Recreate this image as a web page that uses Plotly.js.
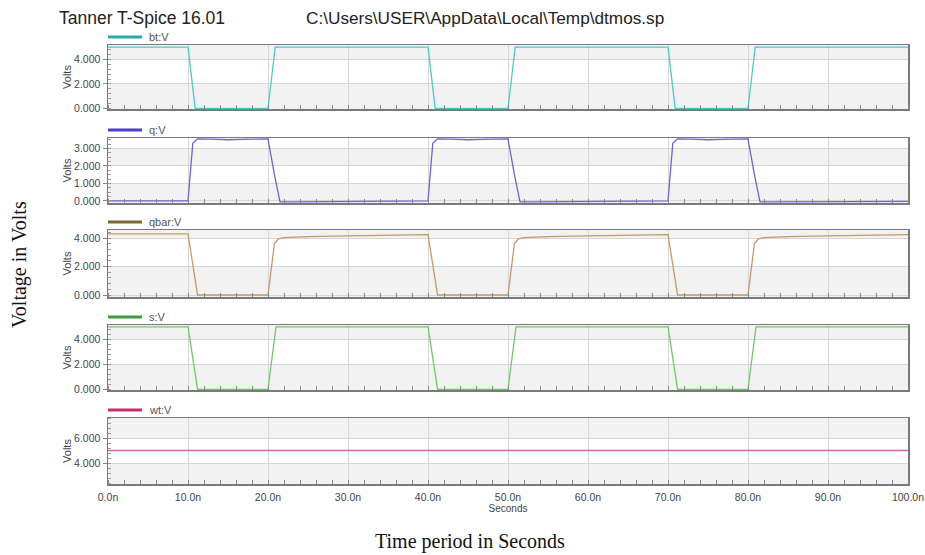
<!DOCTYPE html>
<html>
<head>
<meta charset="utf-8">
<script src="https://cdn.plot.ly/plotly-3.0.1.min.js"></script>
<style>html,body{margin:0;padding:0;background:#fff;}#chart{width:925px;height:555px;}</style>
</head>
<body>
<div id="chart"></div>
<script>
// ---- data (time in ns, values in volts) ----
const btTime  = [0,10,10.9,20,20.9,40,40.9,50,50.9,70,70.9,80,80.9,100];
const btVolts = [5,5,0,0,5,5,0,0,5,5,0,0,5,5];

const qTime  = [0,10,10.6,11.2,13,15,18,20,20.8,21.5,23,30,38,40,40.6,41.2,43,45,48,50,50.8,51.5,53,60,68,70,70.6,71.2,73,75,78,80,80.8,81.5,83,90,100];
const qVolts = [0,0,3.3,3.55,3.54,3.5,3.53,3.55,1.5,-0.05,-0.05,-0.04,-0.01,0,3.3,3.55,3.54,3.5,3.53,3.55,1.5,-0.05,-0.05,-0.04,-0.01,0,3.3,3.55,3.54,3.5,3.53,3.55,1.5,-0.05,-0.05,-0.04,-0.03];

const qbarTime  = [0,10,11.2,20,20.8,21.3,22,25,30,35,40,41.2,50,50.8,51.3,52,55,60,65,70,71.2,80,80.8,81.3,82,85,90,95,100];
const qbarVolts = [4.3,4.3,0,0,3.6,3.95,4.03,4.1,4.15,4.2,4.24,0,0,3.6,3.95,4.03,4.1,4.15,4.2,4.24,0,0,3.6,3.95,4.03,4.1,4.15,4.2,4.24];

const sTime  = [0,10,11.2,20,21,40,41.2,50,51,70,71.2,80,81,100];
const sVolts = [5,5,0,0,5,5,0,0,5,5,0,0,5,5];

const wtTime  = [0,100];
const wtVolts = [5,5];

const seriesNames = ['bt:V','q:V','qbar:V','s:V','wt:V'];
const xTickVals   = [0,10,20,30,40,50,60,70,80,90,100];
const xTickLabels = ['0.0n','10.0n','20.0n','30.0n','40.0n','50.0n','60.0n','70.0n','80.0n','90.0n','100.0n'];

// ---- styling / layout ----
const lineColors   = ['#48cccc','#6b63d9','#c49a62','#6ccb5f','#d864a8'];
const legendColors = ['#2aa9a9','#4a40c2','#7d6a32','#3d9b3d','#c2306f'];
const W = 925, H = 555;
const xLeft = 108, xRight = 908;
const panelPx = [[45,109],[138,203],[230,297],[325,390],[418,484]];
const yRanges = [[-0.05,5.18],[-0.12,3.6],[-0.14,4.57],[-0.05,5.15],[2.32,7.6]];
const yTicks  = [[0,2,4],[0,1,2,3],[0,2,4],[0,2,4],[4,6]];
const yMinor  = [0.4,0.25,0.4,0.4,0.4];
const whiteBands = [[[2,4]],[[1,2],[3,3.6]],[[2,4]],[[2,4]],[[4,6]]];

const times = [btTime,qTime,qbarTime,sTime,wtTime];
const vals  = [btVolts,qVolts,qbarVolts,sVolts,wtVolts];

const fontFam = 'Arial, "Liberation Sans", sans-serif';
const serifFam = '"Liberation Serif", "Times New Roman", serif';
const traces = [];
const layout = {
  width: W, height: H,
  margin: {l:0,r:0,t:0,b:0},
  paper_bgcolor: '#ffffff',
  plot_bgcolor: '#f2f2f2',
  showlegend: false,
  font: {family: fontFam, size: 10, color: '#555'},
  shapes: [], annotations: []
};

const xd = [xLeft/W, xRight/W];
for (let i = 0; i < 5; i++) {
  const n = i === 0 ? '' : String(i+1);
  traces.push({
    x: times[i], y: vals[i], type: 'scatter', mode: 'lines',
    name: seriesNames[i],
    xaxis: 'x' + n, yaxis: 'y' + n,
    line: {color: lineColors[i], width: 1.3}
  });
  const dom = [1 - panelPx[i][1]/H, 1 - panelPx[i][0]/H];
  const last = i === 4;
  layout['xaxis' + n] = {
    domain: xd, anchor: 'y' + n, range: [0,100],
    matches: i === 0 ? undefined : 'x',
    tickvals: xTickVals, ticktext: xTickLabels,
    showticklabels: last, ticklabelstandoff: 3,
    ticks: '', showgrid: true, gridcolor: '#d6d6d6', gridwidth: 1,
    zeroline: false, showline: true, mirror: true, linecolor: '#7a7a7a', linewidth: 1.5,
    minor: {ticks: 'inside', ticklen: 4, dtick: 2, tickcolor: '#888', showgrid: false},
    tickfont: {size: 10.5, color: '#444', family: fontFam},
    automargin: false,
    title: last ? {text: 'Seconds', font: {size: 10, color: '#444', family: fontFam}, standoff: 2} : {text: ''}
  };
  layout['yaxis' + n] = {
    domain: dom, anchor: 'x' + n, range: yRanges[i],
    tickvals: yTicks[i], tickformat: '.3f',
    ticks: 'outside', ticklen: 4, tickcolor: '#888',
    showgrid: true, gridcolor: '#d6d6d6', zeroline: false,
    showline: true, mirror: true, linecolor: '#7a7a7a', linewidth: 1.5,
    minor: {ticks: 'inside', ticklen: 3, dtick: yMinor[i], tickcolor: '#999', showgrid: false},
    tickfont: {size: 10.5, color: '#444', family: fontFam},
    automargin: false,
    title: {text: 'Volts', font: {size: 11, color: '#444', family: fontFam}, standoff: 0}
  };
  whiteBands[i].forEach(b => {
    layout.shapes.push({type: 'rect', xref: 'x' + n + ' domain', yref: 'y' + n,
      x0: 0, x1: 1, y0: b[0], y1: b[1], fillcolor: '#ffffff', line: {width: 0}, layer: 'below'});
  });
  const ly = 1 - (panelPx[i][0] - 8)/H;
  layout.shapes.push({type: 'line', xref: 'paper', yref: 'paper',
    x0: 108/W, x1: 142/W, y0: ly, y1: ly, line: {color: legendColors[i], width: 3}});
  layout.annotations.push({xref: 'paper', yref: 'paper', x: 147/W, y: ly,
    xanchor: 'left', yanchor: 'middle', showarrow: false, text: seriesNames[i],
    font: {size: 11, color: '#555', family: fontFam}});
}

layout.annotations.push(
  {xref:'paper', yref:'paper', x: 57/W, y: 1 - 18/H, xanchor:'left', yanchor:'middle', showarrow:false,
   text:'Tanner T-Spice 16.01', font:{size:17.5, color:'#222', family: fontFam}},
  {xref:'paper', yref:'paper', x: 304/W, y: 1 - 18/H, xanchor:'left', yanchor:'middle', showarrow:false,
   text:'C:\\Users\\USER\\AppData\\Local\\Temp\\dtmos.sp', font:{size:17.2, color:'#222', family: fontFam}},
  {xref:'paper', yref:'paper', x: 19/W, y: 1 - 265/H, xanchor:'center', yanchor:'middle', showarrow:false,
   textangle: -90, text:'Voltage in Volts', font:{size:20, color:'#111', family: serifFam}},
  {xref:'paper', yref:'paper', x: 470/W, y: 1 - 541/H, xanchor:'center', yanchor:'middle', showarrow:false,
   text:'Time period in Seconds', font:{size:20, color:'#111', family: serifFam}}
);

Plotly.newPlot('chart', traces, layout, {displayModeBar: false, staticPlot: true});
</script>
</body>
</html>
